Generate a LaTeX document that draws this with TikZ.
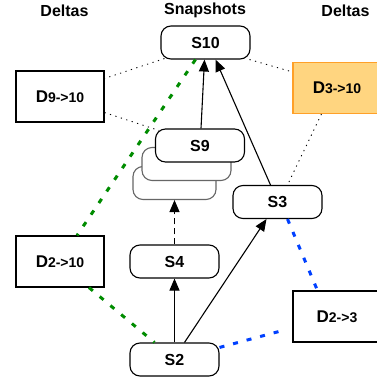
\documentclass[tikz,border=0pt]{standalone}
\usepackage{fontspec}
\setmainfont{Liberation Sans}
\usetikzlibrary{arrows.meta}

\definecolor{deltafill}{RGB}{255,213,128}
\definecolor{deltaline}{RGB}{255,160,40}
\definecolor{changegreen}{RGB}{0,140,0}
\definecolor{changeblue}{RGB}{0,64,255}

\newcommand{\dname}[2]{{\fontsize{17}{17}\selectfont #1}{\fontsize{14}{14}\selectfont #2}}

\tikzset{
	title/.style = {font=\bfseries\fontsize{16}{16}\selectfont},
	snap/.style = {draw, rounded corners=10, line width=1.1, fill=white,
		minimum width=89, minimum height=33, font=\bfseries\fontsize{16}{16}\selectfont},
	ghost/.style = {snap, draw=black!60},
	delta/.style = {draw, line width=1.1, fill=white,
		minimum width=88, minimum height=51, font=\bfseries},
	hot/.style = {delta, fill=deltafill, draw=deltaline},
	link/.style = {line width=0.9, dash pattern=on 1.2 off 4.5},
	greenlink/.style = {draw=changegreen, line width=3, dash pattern=on 5 off 9},
	bluelink/.style = {draw=changeblue, line width=3, dash pattern=on 5 off 9},
	histarrow/.style = {-{Triangle[length=12,width=10]}, line width=1.1},
}

\begin{document}
\begin{tikzpicture}[x=1pt, y=-1pt]

	\useasboundingbox (0,0) rectangle (377,381);
	\clip (0,0) rectangle (377,381);

	% column titles
	\node[title] (tleft) at (64.5,10.5) {Deltas};
	\node[title] (tmid) at (205,10.5) {Snapshots};
	\node[title] (tright) at (345.5,10.5) {Deltas};

	% snapshots (S9 with its stack behind)
	\node[ghost, minimum width=83] (S9c) at (174.5,183) {};
	\node[ghost] (S9b) at (186.5,164) {};
	\node[snap] (S10) at (205.5,42.5) {S10};
	\node[snap] (S9) at (200,145.5) {S9};
	\node[snap] (S3) at (277.5,202) {S3};
	\node[snap] (S4) at (174.5,261.5) {S4};
	\node[snap] (S2) at (174.5,359.5) {S2};

	% deltas
	\node[delta] (D9) at (60,96.5) {\dname{D}{9->10}};
	\node[hot] (D3) at (337,88) {\dname{D}{3->10}};
	\node[delta] (D210) at (60,261.5) {\dname{D}{2->10}};
	\node[delta] (D23) at (337,316.5) {\dname{D}{2->3}};

	% dotted links to S10
	\draw[link] ([shift={(4,-1)}]S10.south west) -- ([yshift=-8]D9.north east);
	\draw[link] ([yshift=10]D9.south east) -- ([shift={(4,2)}]S9.north west);
	\draw[link] ([xshift=-1]S10.south east) -- ([yshift=-10]D3.north west);
	\draw[link] ([xshift=29]D3.south west) -- ([xshift=10]S3.north);

	% S2 to S10 (green) and S2 to S3 (blue)
	\draw[greenlink] ([xshift=-10]S10.south) -- ([xshift=17]D210.north);
	\draw[greenlink] ([xshift=29]D210.south) -- ([xshift=25]S2.north west);
	\draw[bluelink] ([xshift=10]S3.south) -- ([xshift=25]D23.north west);
	\draw[bluelink] ([yshift=-5]S2.north east) -- ([shift={(-10,-12)}]D23.south west);

	% history
	\draw[histarrow] ([xshift=1]S9.north) -- ([xshift=-1]S10.south);
	\draw[histarrow] ([xshift=-7]S3.north) -- ([xshift=10]S10.south);
	\draw[histarrow, dash pattern=on 6 off 4] (S4.north) -- (S9c.south);
	\draw[histarrow] (S2.north) -- (S4.south);
	\draw[histarrow] ([xshift=10]S2.north) -- ([xshift=-11]S3.south);

\end{tikzpicture}
\end{document}
